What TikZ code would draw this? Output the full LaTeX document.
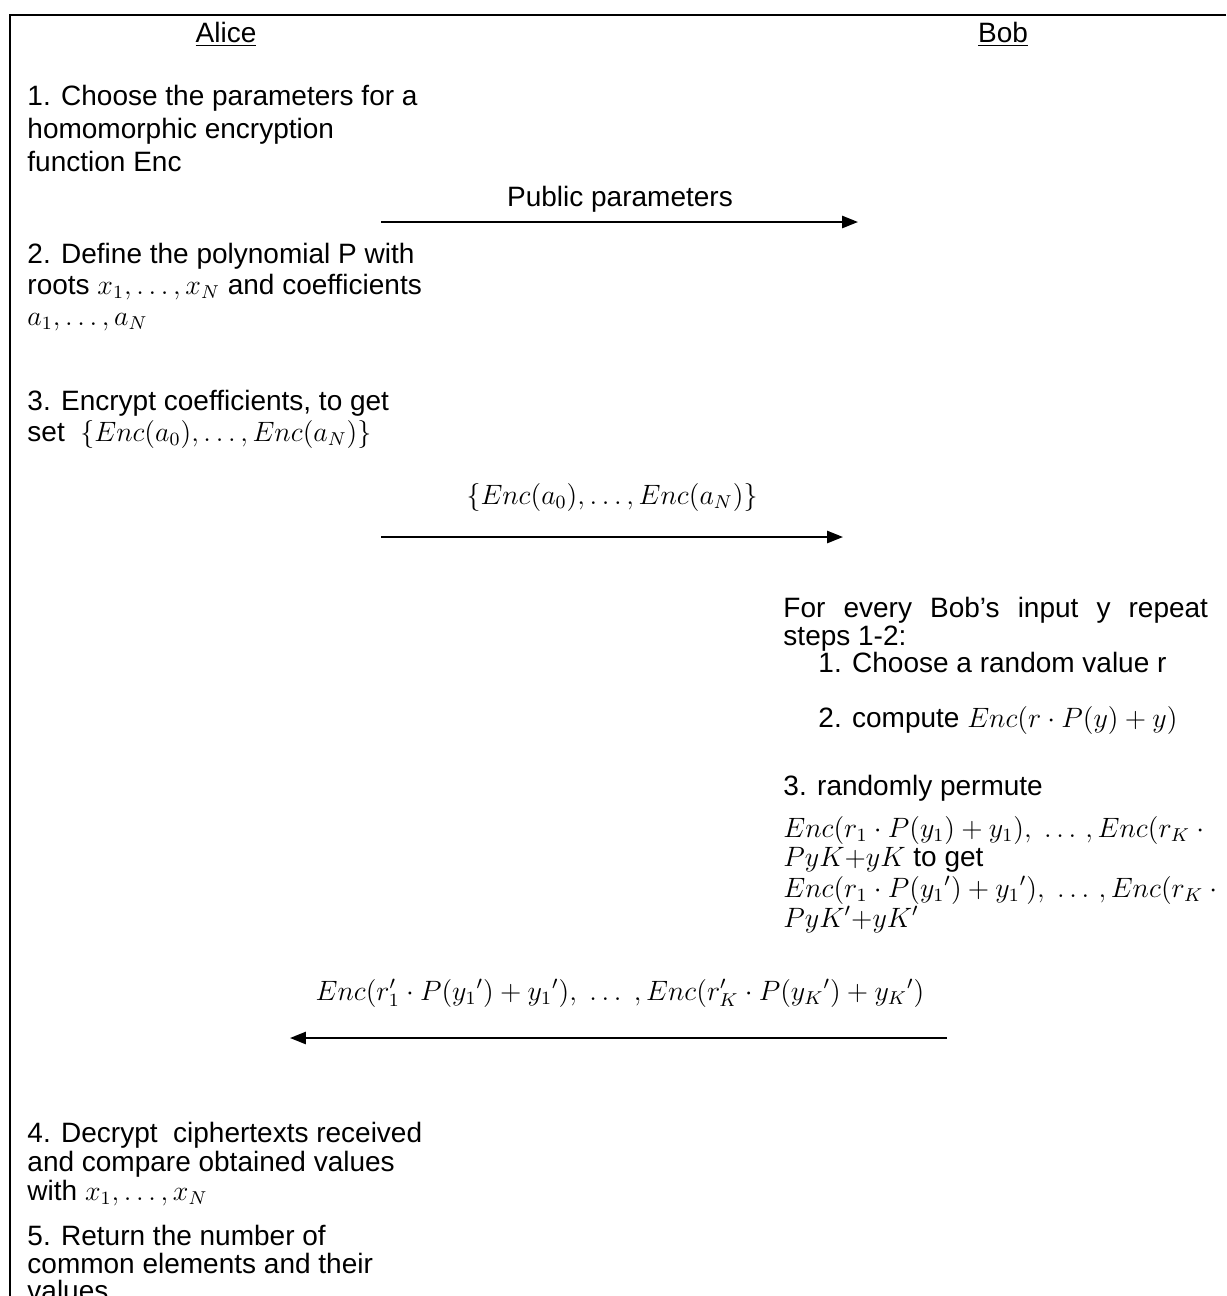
\documentclass[tikz,border=0pt]{standalone}
\usepackage[no-math]{fontspec}
\setmainfont{Liberation Sans}
\usetikzlibrary{arrows.meta}
\begin{document}
\begin{tikzpicture}[x=0.4286pt,y=-0.4286pt,
  txt/.style={inner sep=0pt,anchor=base west,font=\fontsize{12pt}{12pt}\selectfont},
  head/.style={inner sep=0pt,anchor=base,font=\fontsize{12pt}{12pt}\selectfont},
  msg/.style={line width=0.9pt,-{Triangle[length=6.8pt,width=5.2pt]}},
  frame/.style={line width=0.9pt}]
\useasboundingbox (0,0) rectangle (1226,1296);

% outer frame (top and left edges)
\draw[frame] (1226,15) -- (10,15) -- (10,1296);

% parties
\node[head] (alice) at (226,42) {\underline{Alice}};
\node[head] (bob) at (1003,42) {\underline{Bob}};

% Alice, steps 1-3
\node[txt] (a1a) at (27,105) {1. Choose the parameters for a};
\node[txt] (a1b) at (27,138) {homomorphic encryption};
\node[txt] (a1c) at (27,171) {function Enc};

\node[head] (m1) at (620,206) {Public parameters};
\coordinate (m1s) at (381,222);
\coordinate (m1e) at (858,222);
\draw[msg] (m1s) -- (m1e);

\node[txt] (a2a) at (27,263) {2. Define the polynomial P with};
\node[txt] (a2b) at (27,294) {roots $x_1,\ldots,x_N$ and coefficients};
\node[txt] (a2c) at (27,325) {$a_1,\ldots,a_N$};

\node[txt] (a3a) at (27,410) {3. Encrypt coefficients, to get};
\node[txt] (a3b) at (27,441) {set\ \ $\{Enc(a_0),\ldots,Enc(a_N)\}$};

\node[head] (m2) at (612,504) {$\{Enc(a_0),\ldots,Enc(a_N)\}$};
\coordinate (m2s) at (381,537);
\coordinate (m2e) at (843,537);
\draw[msg] (m2s) -- (m2e);

% Bob
\node[txt] (b0a) at (783,617) {\hbox to 182pt{For\hfill every\hfill Bob’s\hfill input\hfill y\hfill repeat}};
\node[txt] (b0b) at (783,645) {steps 1-2:};
\node[txt] (b1) at (818,672) {1. Choose a random value r};
\node[txt] (b2) at (818,727) {2. compute $Enc(r\cdot P(y)+y)$};
\node[txt] (b3a) at (783,795) {3. randomly permute};
\node[txt] (b3b) at (783,837) {$Enc(r_1\cdot P(y_1)+y_1),\ \ldots\,,Enc(r_K\cdot{}$};
\node[txt] (b3c) at (783,866) {$PyK{+}yK$ to get};
\node[txt] (b3d) at (783,897) {$Enc(r_1\cdot P({y_1}')+{y_1}'),\ \ldots\,,Enc(r_K\cdot{}$};
\node[txt] (b3e) at (783,927) {$PyK'{+}yK'$};

\node[head] (m3) at (620,1000) {$Enc(r_1'\cdot P({y_1}')+{y_1}'),\ \ldots\ ,Enc(r_K'\cdot P({y_K}')+{y_K}')$};
\coordinate (m3s) at (947,1038);
\coordinate (m3e) at (290,1038);
\draw[msg] (m3s) -- (m3e);

% Alice, steps 4-5
\node[txt] (a4a) at (27,1142) {4. Decrypt\ \ ciphertexts received};
\node[txt] (a4b) at (27,1171) {and compare obtained values};
\node[txt] (a4c) at (27,1200) {with $x_1,\ldots,x_N$};

\node[txt] (a5a) at (27,1245) {5. Return the number of};
\node[txt] (a5b) at (27,1273) {common elements and their};
\node[txt] (a5c) at (27,1300) {values};
\end{tikzpicture}
\end{document}
